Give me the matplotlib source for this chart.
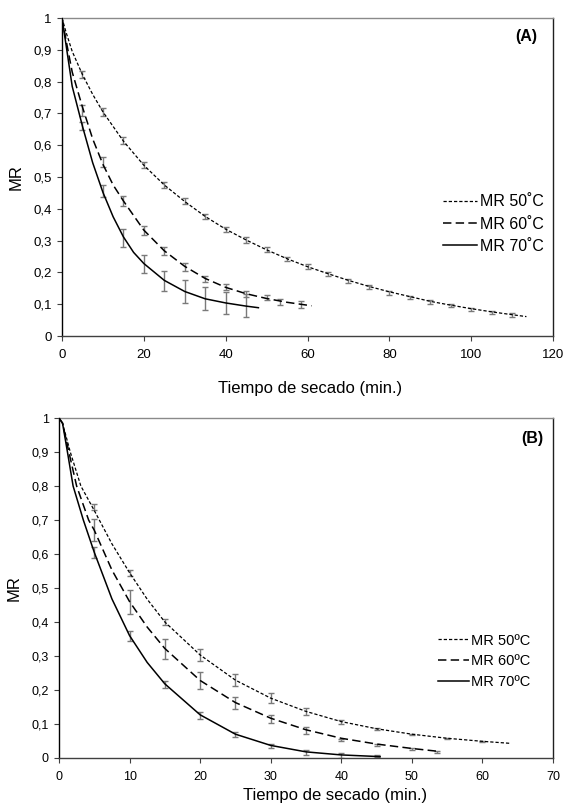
import numpy as np
import matplotlib
matplotlib.use('Agg')
import matplotlib.pyplot as plt
from matplotlib.ticker import FuncFormatter

plt.rcParams['font.family'] = ['Liberation Sans', 'DejaVu Sans']

# ---- panel A : measured points (mean, half error bar) ----
tA50 = [5, 10, 15, 20, 25, 30, 35, 40, 45, 50, 55, 60, 65, 70, 75, 80, 85, 90, 95, 100, 105, 110]
mA50 = [0.822, 0.705, 0.615, 0.537, 0.475, 0.424, 0.376, 0.336, 0.302, 0.272, 0.243, 0.218,
        0.195, 0.174, 0.155, 0.136, 0.122, 0.107, 0.095, 0.084, 0.075, 0.066]
eA50 = [0.012, 0.013, 0.011, 0.010, 0.010, 0.009, 0.009, 0.008, 0.008, 0.007, 0.007, 0.007,
        0.006, 0.006, 0.006, 0.006, 0.005, 0.005, 0.005, 0.005, 0.005, 0.005]
tA60 = [5, 10, 15, 20, 25, 30, 35, 40, 45, 50, 53.3, 58.4]
mA60 = [0.71, 0.547, 0.425, 0.332, 0.267, 0.217, 0.179, 0.154, 0.132, 0.121, 0.107, 0.099]
eA60 = [0.017, 0.016, 0.016, 0.014, 0.013, 0.012, 0.010, 0.009, 0.010, 0.009, 0.010, 0.012]
tA70 = [5, 10, 15, 20, 25, 30, 35, 40, 45]
mA70 = [0.66, 0.456, 0.308, 0.226, 0.173, 0.141, 0.119, 0.104, 0.097]
eA70 = [0.013, 0.020, 0.028, 0.028, 0.033, 0.036, 0.036, 0.034, 0.036]

# ---- panel A : model curves ----
cA50_t = [0, 1, 2.5, 5, 7.5, 10, 15, 20, 25, 30, 35, 40, 45, 50, 55, 60, 65, 70, 75, 80, 85,
          90, 95, 100, 105, 110, 113.5]
cA50_y = [1, 0.955, 0.895, 0.822, 0.76, 0.705, 0.613, 0.537, 0.475, 0.423, 0.376, 0.336, 0.302,
          0.271, 0.243, 0.218, 0.196, 0.175, 0.156, 0.139, 0.124, 0.109, 0.097, 0.086, 0.076,
          0.067, 0.061]
cA60_t = [0, 1, 2.5, 5, 7.5, 10, 12.5, 15, 20, 25, 30, 35, 40, 45, 50, 55, 61]
cA60_y = [1, 0.93, 0.83, 0.72, 0.62, 0.54, 0.475, 0.425, 0.333, 0.268, 0.219, 0.181, 0.153,
          0.133, 0.118, 0.106, 0.095]
cA70_t = [0, 1, 2.5, 5, 7.5, 10, 12.5, 15, 17.5, 20, 25, 30, 35, 40, 45, 48]
cA70_y = [1, 0.915, 0.785, 0.66, 0.545, 0.452, 0.375, 0.312, 0.263, 0.228, 0.175, 0.14,
          0.117, 0.104, 0.094, 0.089]

# ---- panel B : measured points ----
tB50 = [5, 10, 15, 20, 25, 30, 35, 40, 45, 50, 55, 60]
mB50 = [0.738, 0.544, 0.40, 0.303, 0.229, 0.176, 0.136, 0.106, 0.084, 0.07, 0.058, 0.048]
eB50 = [0.008, 0.010, 0.008, 0.017, 0.018, 0.014, 0.010, 0.006, 0.003, 0.002, 0.002, 0.002]
tB60 = [5, 10, 15, 20, 25, 30, 35, 40, 45, 50, 53.5]
mB60 = [0.67, 0.459, 0.321, 0.227, 0.161, 0.114, 0.081, 0.054, 0.039, 0.026, 0.019]
eB60 = [0.033, 0.036, 0.030, 0.025, 0.018, 0.012, 0.011, 0.003, 0.003, 0.003, 0.003]
tB70 = [5, 10, 15, 20, 25, 30, 35, 40, 45]
mB70 = [0.604, 0.36, 0.216, 0.124, 0.068, 0.035, 0.016, 0.008, 0.005]
eB70 = [0.017, 0.015, 0.011, 0.010, 0.007, 0.006, 0.007, 0.007, 0.003]

# ---- panel B : model curves ----
cB50_t = [0, 0.5, 1.6, 3.1, 5, 7.5, 10, 12.5, 15, 20, 25, 30, 35, 40, 45, 50, 55, 60, 64]
cB50_y = [1, 0.985, 0.9, 0.8, 0.728, 0.63, 0.545, 0.467, 0.40, 0.303, 0.229, 0.176, 0.137,
          0.107, 0.086, 0.07, 0.058, 0.049, 0.043]
cB60_t = [0, 0.5, 1.4, 2.5, 4.2, 5, 7.5, 10, 12.5, 15, 20, 25, 30, 35, 40, 45, 50, 54]
cB60_y = [1, 0.985, 0.9, 0.8, 0.7, 0.67, 0.553, 0.46, 0.385, 0.322, 0.228, 0.163, 0.117,
          0.083, 0.058, 0.041, 0.028, 0.019]
cB70_t = [0, 0.5, 1.2, 2, 3.45, 5, 7.5, 10, 12.5, 15, 20, 25, 30, 35, 40, 45.5]
cB70_y = [1, 0.985, 0.9, 0.8, 0.7, 0.605, 0.468, 0.36, 0.281, 0.218, 0.127, 0.07, 0.037,
          0.018, 0.009, 0.004]

labelsA = ['MR 50\u02daC', 'MR 60\u02daC', 'MR 70\u02daC']
labelsB = ['MR 50\u00baC', 'MR 60\u00baC', 'MR 70\u00baC']

comma = FuncFormatter(lambda v, p: ('%g' % round(v, 2)).replace('.', ','))
ECOL = '#7a7a7a'

fig = plt.figure(figsize=(5.65, 8.05), dpi=100)
axA = fig.add_axes([0.1097, 0.5826, 0.8691, 0.395])
axB = fig.add_axes([0.1044, 0.0584, 0.8744, 0.4223])


def draw(ax, pts, curves, labels, xmax, xstep, tickfs, legfs, leg_xy, ylab_x, xlab_xy,
         panel, panel_xy):
    for t, m, e in pts:
        ax.errorbar(t, m, yerr=e, fmt='none', ecolor=ECOL, elinewidth=1.0,
                    capsize=2.2, capthick=1.0, zorder=2)
    styles = [dict(lw=0.9, dashes=(2.6, 1.6)), dict(lw=1.1, dashes=(5.5, 2.8)), dict(lw=1.1)]
    for (ct, cy), lab, st in zip(curves, labels, styles):
        ax.plot(ct, cy, color='black', label=lab, zorder=3, **st)
    ax.set_xlim(0, xmax)
    ax.set_ylim(0, 1)
    ax.set_xticks(np.arange(0, xmax + 1, xstep))
    ax.set_yticks(np.arange(0, 1.01, 0.1))
    ax.yaxis.set_major_formatter(comma)
    ax.tick_params(axis='both', direction='out', length=3.5, width=0.8,
                   labelsize=tickfs, color='#404040')
    ax.tick_params(axis='x', pad=6)
    ax.tick_params(axis='y', pad=4)
    ax.spines['left'].set_color('black')
    ax.spines['bottom'].set_color('#404040')
    ax.spines['top'].set_color('#8a8a8a')
    ax.spines['right'].set_color('#202020')
    for s in ax.spines.values():
        s.set_linewidth(1.0)
    ax.set_ylabel('MR', fontsize=12)
    ax.yaxis.set_label_coords(ylab_x, 0.5)
    ax.set_xlabel('Tiempo de secado (min.)', fontsize=12)
    ax.xaxis.set_label_coords(*xlab_xy)
    ax.legend(loc='center left', bbox_to_anchor=leg_xy, frameon=False, fontsize=legfs,
              handlelength=2.1, handletextpad=0.2, labelspacing=0.45,
              borderpad=0, borderaxespad=0)
    ax.text(panel_xy[0], panel_xy[1], panel, transform=ax.transAxes, fontsize=11.5,
            fontweight='bold', ha='right', va='center')


draw(axA,
     [(tA50, mA50, eA50), (tA60, mA60, eA60), (tA70, mA70, eA70)],
     [(cA50_t, cA50_y), (cA60_t, cA60_y), (cA70_t, cA70_y)],
     labelsA, 120, 20, 9.5, 11.5, (0.776, 0.352), -0.079, (0.505, -0.14), '(A)', (0.968, 0.943))
draw(axB,
     [(tB50, mB50, eB50), (tB60, mB60, eB60), (tB70, mB70, eB70)],
     [(cB50_t, cB50_y), (cB60_t, cB60_y), (cB70_t, cB70_y)],
     labelsB, 70, 10, 9, 10.5, (0.767, 0.285), -0.075, (0.559, -0.088), '(B)', (0.98, 0.94))

fig.savefig('out.png', dpi=100)
